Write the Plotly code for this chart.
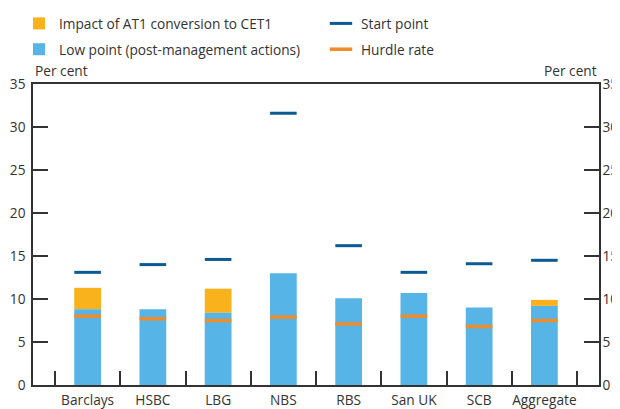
import plotly.graph_objects as go

categories = ["Barclays", "HSBC", "LBG", "NBS", "RBS", "San UK", "SCB", "Aggregate"]
low_point = [8.8, 8.8, 8.4, 13.0, 10.1, 10.7, 9.0, 9.2]
at1_impact = [2.5, 0, 2.8, 0, 0, 0, 0, 0.7]
start_point = [13.1, 14.0, 14.6, 31.6, 16.2, 13.1, 14.1, 14.5]
hurdle_rate = [8.0, 7.7, 7.5, 7.9, 7.1, 8.0, 6.8, 7.5]
y_ticks = [0, 5, 10, 15, 20, 25, 30, 35]

BLUE_LIGHT = "#56b4e6"
ORANGE_BAR = "#f9b11c"
DARK_BLUE = "#0b5a92"
ORANGE_LINE = "#f08c2a"
TXT = "#333333"
FONT = "Open Sans"
FS = 13.7

W, H = 612, 401  # page has an 8px body margin

fig = go.Figure()
fig.add_bar(x=categories, y=at1_impact, base=low_point, name="Impact of AT1 conversion to CET1",
            marker=dict(color=ORANGE_BAR, line=dict(width=0)), width=0.41,
            legend="legend", legendgroup="a")
fig.add_bar(x=categories, y=low_point, name="Low point (post-management actions)",
            marker=dict(color=BLUE_LIGHT, line=dict(width=0)), width=0.41,
            legend="legend", legendgroup="b")
fig.add_scatter(x=categories, y=start_point, mode="markers", name="Start point",
                marker=dict(symbol="line-ew", size=19, line=dict(color=DARK_BLUE, width=3)),
                legend="legend2", legendgroup="c")
fig.add_scatter(x=categories, y=hurdle_rate, mode="markers", name="Hurdle rate",
                marker=dict(symbol="line-ew", size=19, line=dict(color=ORANGE_LINE, width=3.5)),
                legend="legend2", legendgroup="d")
# invisible trace for right axis
fig.add_scatter(x=categories, y=start_point, yaxis="y2", mode="markers",
                marker=dict(opacity=0), showlegend=False, hoverinfo="skip")

fig.update_layout(
    width=W, height=H,
    margin=dict(l=25, r=21, t=76, b=24, autoexpand=False),
    paper_bgcolor="white", plot_bgcolor="white",
    font=dict(family=FONT, size=FS, color=TXT),
    barmode="overlay",
    xaxis=dict(type="category", range=[-0.837, 7.837], showline=True, linecolor=TXT, linewidth=1.5,
               mirror=True, ticks="inside", ticklen=14, tickwidth=1.5, tickcolor=TXT,
               tickson="boundaries", showgrid=False, tickfont=dict(size=FS, color=TXT),
               tickangle=0, ticklabelstandoff=2, automargin=False),
    yaxis=dict(range=[0, 35], tickvals=y_ticks, showline=True, linecolor=TXT, linewidth=1.5,
               ticks="inside", ticklen=15, tickwidth=1.5, tickcolor=TXT, showgrid=False,
               zeroline=False, tickfont=dict(size=FS, color=TXT), ticklabelstandoff=3,
               automargin=False),
    yaxis2=dict(range=[0, 35], tickvals=y_ticks, overlaying="y", side="right", showline=True,
                linecolor=TXT, linewidth=1.5, ticks="inside", ticklen=15, tickwidth=1.5,
                tickcolor=TXT, showgrid=False, zeroline=False, tickfont=dict(size=FS, color=TXT),
                ticklabelstandoff=-1, automargin=False),
    legend=dict(x=11 / W, y=1.0155, xref="container", yref="container", xanchor="left", yanchor="top",
                orientation="v", font=dict(size=FS, color=TXT), bgcolor="rgba(0,0,0,0)",
                traceorder="grouped", tracegroupgap=5, itemwidth=30),
    legend2=dict(x=313 / W, y=1.0155, xref="container", yref="container", xanchor="left", yanchor="top",
                 orientation="v", font=dict(size=FS, color=TXT), bgcolor="rgba(0,0,0,0)",
                 traceorder="grouped", tracegroupgap=5, itemwidth=30),
    annotations=[
        dict(text="Per cent", x=0, xref="paper", xanchor="left", y=1.0, yref="paper",
             yanchor="bottom", yshift=2, showarrow=False, font=dict(size=FS, color=TXT)),
        dict(text="Per cent", x=1, xref="paper", xanchor="right", y=1.0, yref="paper",
             yanchor="bottom", yshift=2, showarrow=False, font=dict(size=FS, color=TXT)),
    ],
)

fig.write_html("out.html")
